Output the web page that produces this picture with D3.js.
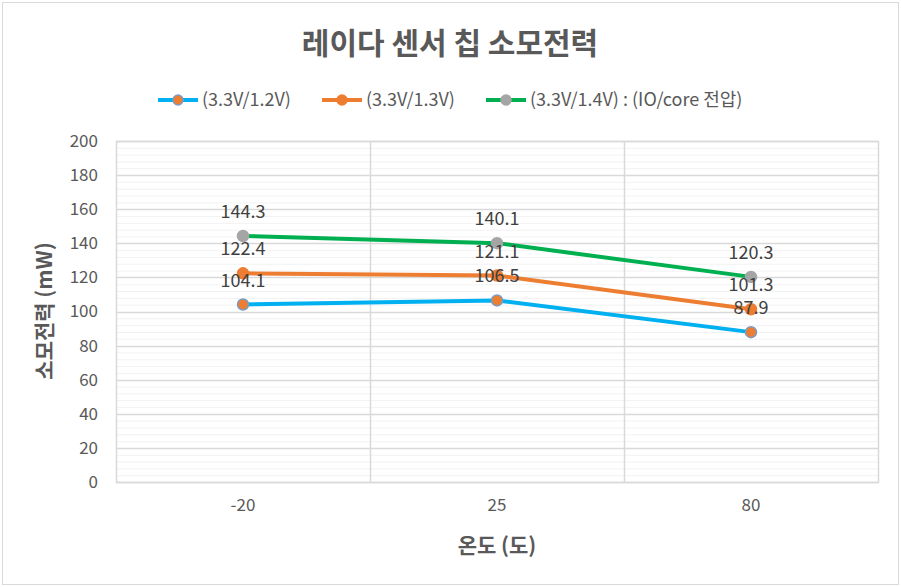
<!DOCTYPE html>
<html>
<head>
<meta charset="utf-8">
<script src="https://cdn.jsdelivr.net/npm/d3@7"></script>
<style>
  body { margin: 0; background: #fff; }
  text { font-family: "Noto Sans CJK KR", "Noto Sans", sans-serif; }
</style>
</head>
<body>
<div id="chart"></div>
<script>
// data
var categories = ["-20", "25", "80"];
var seriesNames = ["(3.3V/1.2V)", "(3.3V/1.3V)", "(3.3V/1.4V) : (IO/core 전압)"];
var s12 = [104.1, 106.5, 87.9];
var s13 = [122.4, 121.1, 101.3];
var s14 = [144.3, 140.1, 120.3];
var yTicks = [0, 20, 40, 60, 80, 100, 120, 140, 160, 180, 200];

var series = [
  { name: seriesNames[0], values: s12, line: "#00B0F0", fill: "#ED7D31", stroke: "#7F9BC0" },
  { name: seriesNames[1], values: s13, line: "#ED7D31", fill: "#ED7D31", stroke: "#ED7D31" },
  { name: seriesNames[2], values: s14, line: "#00B050", fill: "#A5A5A5", stroke: "#A5A5A5" }
];

var W = 901, H = 587;
var svg = d3.select("#chart").append("svg").attr("width", W).attr("height", H);

svg.append("rect").attr("x", 2.5).attr("y", 2.5).attr("width", W - 5).attr("height", H - 5)
  .attr("fill", "#fff").attr("stroke", "#D9D9D9");

var plot = { left: 116, right: 878, top: 141, bottom: 482 };

var x = d3.scaleBand().domain(categories).range([plot.left, plot.right]);
var y = d3.scaleLinear().domain([0, 200]).range([plot.bottom, plot.top]);

// minor gridlines
var minor = d3.range(0, 201, 4).filter(function(v) { return v % 20 != 0; });
svg.append("g").selectAll("line").data(minor).enter().append("line")
  .attr("x1", plot.left).attr("x2", plot.right)
  .attr("y1", function(d) { return y(d) + 0.5; }).attr("y2", function(d) { return y(d) + 0.5; })
  .attr("stroke", "#F2F2F2");

// major gridlines
svg.append("g").selectAll("line").data(yTicks).enter().append("line")
  .attr("x1", plot.left).attr("x2", plot.right)
  .attr("y1", function(d) { return Math.round(y(d)) + 0.5; }).attr("y2", function(d) { return Math.round(y(d)) + 0.5; })
  .attr("stroke", "#D9D9D9").attr("stroke-width", 1.5);

// vertical category boundaries
svg.append("g").selectAll("line").data(categories.slice(1)).enter().append("line")
  .attr("x1", function(d) { return Math.round(x(d)) + 0.5; })
  .attr("x2", function(d) { return Math.round(x(d)) + 0.5; })
  .attr("y1", plot.top).attr("y2", plot.bottom)
  .attr("stroke", "#D9D9D9").attr("stroke-width", 1.5);

// plot border
svg.append("rect").attr("x", plot.left + 0.5).attr("y", plot.top + 0.5)
  .attr("width", plot.right - plot.left).attr("height", plot.bottom - plot.top)
  .attr("fill", "none").attr("stroke", "#D9D9D9").attr("stroke-width", 1.5);

// y axis labels
var yAxis = d3.axisLeft(y).tickValues(yTicks).tickSize(0).tickPadding(18);
var gy = svg.append("g").attr("transform", "translate(" + plot.left + ",0)").call(yAxis);
gy.select(".domain").remove();
gy.selectAll("text").attr("fill", "#595959").style("font-size", "17px");

// x axis labels
var xAxis = d3.axisBottom(x).tickSize(0).tickPadding(17);
var gx = svg.append("g").attr("transform", "translate(0," + plot.bottom + ")").call(xAxis);
gx.select(".domain").remove();
gx.selectAll("text").attr("fill", "#595959").style("font-size", "17px");

// lines
var line = d3.line()
  .x(function(d, i) { return x(categories[i]) + x.bandwidth() / 2; })
  .y(function(d) { return y(d); });

series.forEach(function(s) {
  svg.append("path").datum(s.values)
    .attr("d", line).attr("fill", "none")
    .attr("stroke", s.line).attr("stroke-width", 4).attr("stroke-linejoin", "round");
});

series.forEach(function(s) {
  var g = svg.append("g");
  g.selectAll("circle").data(s.values).enter().append("circle")
    .attr("cx", function(d, i) { return x(categories[i]) + x.bandwidth() / 2; })
    .attr("cy", function(d) { return y(d); })
    .attr("r", 5.5).attr("fill", s.fill).attr("stroke", s.stroke).attr("stroke-width", 1.5);
});

// data labels
series.forEach(function(s) {
  svg.append("g").selectAll("text").data(s.values).enter().append("text")
    .attr("x", function(d, i) { return x(categories[i]) + x.bandwidth() / 2; })
    .attr("y", function(d) { return y(d) - 18; })
    .attr("text-anchor", "middle").attr("fill", "#404040").style("font-size", "18px")
    .text(function(d) { return d.toFixed(1); });
});

// title
svg.append("text").attr("x", 450).attr("y", 54).attr("text-anchor", "middle")
  .attr("fill", "#595959").style("font-size", "30px").style("font-weight", "bold")
  .text("레이다 센서 칩 소모전력");

// legend
var legendX = [158, 322, 486];
series.forEach(function(s, i) {
  var g = svg.append("g").attr("transform", "translate(" + legendX[i] + ",100)");
  g.append("line").attr("x1", 0).attr("x2", 40).attr("y1", 0).attr("y2", 0)
    .attr("stroke", s.line).attr("stroke-width", 4);
  g.append("circle").attr("cx", 20).attr("cy", 0).attr("r", 5)
    .attr("fill", s.fill).attr("stroke", s.stroke).attr("stroke-width", 1.5);
  g.append("text").attr("x", 44).attr("y", 6).attr("fill", "#595959")
    .style("font-size", "18px").text(s.name);
});

// axis titles
svg.append("text").attr("x", 497).attr("y", 553).attr("text-anchor", "middle")
  .attr("fill", "#595959").style("font-size", "21px").style("font-weight", "bold")
  .text("온도 (도)");

svg.append("text").attr("transform", "translate(52,311) rotate(-90)").attr("text-anchor", "middle")
  .attr("fill", "#595959").style("font-size", "21px").style("font-weight", "bold")
  .text("소모전력 (mW)");
</script>
</body>
</html>
